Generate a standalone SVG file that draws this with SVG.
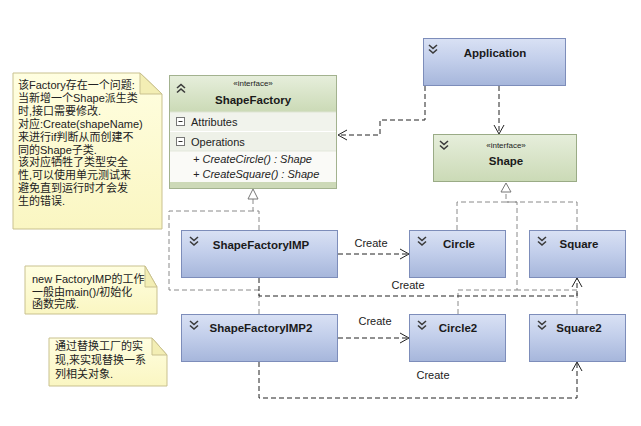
<svg xmlns="http://www.w3.org/2000/svg" width="641" height="426" viewBox="0 0 641 426">
<defs>
<linearGradient id="blue" x1="0" y1="0" x2="0" y2="1">
<stop offset="0" stop-color="#d9e1f4"/><stop offset="0.45" stop-color="#c3cfeb"/><stop offset="1" stop-color="#a6b6db"/>
</linearGradient>
<linearGradient id="green" x1="0" y1="0" x2="0" y2="1">
<stop offset="0" stop-color="#e6eedb"/><stop offset="1" stop-color="#cbdab6"/>
</linearGradient>
<linearGradient id="note" x1="0" y1="0" x2="0" y2="1">
<stop offset="0" stop-color="#fffee0"/><stop offset="1" stop-color="#faf6c2"/>
</linearGradient>
<marker id="open" markerWidth="12" markerHeight="12" refX="10" refY="6" orient="auto" markerUnits="userSpaceOnUse">
<path d="M1,1 L10,6 L1,11" fill="none" stroke="#222" stroke-width="1"/>
</marker>
</defs>
<style>
.cls{fill:url(#blue);stroke:#7d8dba;stroke-width:1}
.ifc{fill:url(#green);stroke:#9aab86;stroke-width:1}
.name{font-family:"Liberation Sans",Arial,sans-serif;font-size:11.5px;font-weight:bold;fill:#1a1a1a;text-anchor:middle}
.stereo{font-family:"Liberation Sans",Arial,sans-serif;font-size:8px;fill:#222;text-anchor:middle}
.txt{font-family:"Liberation Sans",Arial,sans-serif;font-size:11px;fill:#222}
.op{font-family:"Liberation Sans",Arial,sans-serif;font-size:11px;font-style:italic;fill:#222}
.lbl{font-family:"Liberation Sans",Arial,sans-serif;font-size:11px;fill:#222;text-anchor:middle}
.ntxt{font-family:"Liberation Sans","Noto Sans CJK SC",sans-serif;font-size:11px;fill:#222}
.notebox{fill:url(#note);stroke:#c9c18f;stroke-width:1}
.fold{fill:#f3eeb4;stroke:#c9c18f;stroke-width:1}
.chev{fill:none;stroke:#3a3a3a;stroke-width:1.6}
.dep{fill:none;stroke:#222;stroke-width:1;stroke-dasharray:5 3}
.real{fill:none;stroke:#8a8a8a;stroke-width:1;stroke-dasharray:5 3}
.tri{fill:#fff;stroke:#777;stroke-width:1}
</style>

<g id="connectors">
<path class="real" d="M259,230 V211 H253 V199"/>
<path class="real" d="M259,314 V290 H169 V211 H253"/>
<path class="real" d="M457,230 V202 H506 V192"/>
<path class="real" d="M577,230 V202 H506"/>
<path class="real" d="M458,314 V290 H517 V202 H506"/>
<path class="real" d="M577,314 V290 H517"/>
<path class="tri" d="M253,189 L258,199 L248,199 Z"/>
<path class="tri" d="M506,183 L511,192 L501,192 Z"/>
<path class="dep" d="M425,86 V120 H380 V135 H338" marker-end="url(#open)"/>
<path class="dep" d="M499,86 V134" marker-end="url(#open)"/>
<path class="dep" d="M338,254 H409" marker-end="url(#open)"/>
<path class="dep" d="M259,278 V296 H577 V278" marker-end="url(#open)"/>
<path class="dep" d="M338,338 H409" marker-end="url(#open)"/>
<path class="dep" d="M259,362 V398 H577 V362" marker-end="url(#open)"/>
<text class="lbl" x="371" y="247">Create</text>
<text class="lbl" x="408" y="289">Create</text>
<text class="lbl" x="375" y="325">Create</text>
<text class="lbl" x="433" y="379">Create</text>
</g>

<g id="note1">
<path class="notebox" d="M13,73 H140 L162,94 V229 H13 Z"/>
<path class="fold" d="M140,73 V94 H162 Z"/>
<text class="ntxt" x="18" y="89">该Factory存在一个问题:</text>
<text class="ntxt" x="18" y="101.9">当新增一个Shape派生类</text>
<text class="ntxt" x="18" y="114.8">时,接口需要修改.</text>
<text class="ntxt" x="18" y="127.7">对应:Create(shapeName)</text>
<text class="ntxt" x="18" y="140.6">来进行if判断从而创建不</text>
<text class="ntxt" x="18" y="153.5">同的Shape子类.</text>
<text class="ntxt" x="18" y="166.4">该对应牺牲了类型安全</text>
<text class="ntxt" x="18" y="179.3">性,可以使用单元测试来</text>
<text class="ntxt" x="18" y="192.2">避免直到运行时才会发</text>
<text class="ntxt" x="18" y="205.1">生的错误.</text>
</g>

<g id="note2">
<path class="notebox" d="M25,266 H145 L157,287 V314 H25 Z"/>
<path class="fold" d="M145,266 V287 H157 Z"/>
<text class="ntxt" x="32" y="283">new FactoryIMP的工作</text>
<text class="ntxt" x="32" y="295.5">一般由main()/初始化</text>
<text class="ntxt" x="32" y="308">函数完成.</text>
</g>

<g id="note3">
<path class="notebox" d="M49,338 H152 L167,355 V386 H49 Z"/>
<path class="fold" d="M152,338 V355 H167 Z"/>
<text class="ntxt" x="55" y="350">通过替换工厂的实</text>
<text class="ntxt" x="55" y="364">现,来实现替换一系</text>
<text class="ntxt" x="55" y="377.5">列相关对象.</text>
</g>

<g id="Application">
<rect class="cls" x="423.5" y="38.5" width="142" height="47"/>
<path class="chev" d="M429,45 L433,48.5 L437,45 M429,49.5 L433,53 L437,49.5"/>
<text class="name" x="495" y="57">Application</text>
</g>

<g id="Shape">
<rect class="ifc" x="433.5" y="134.5" width="143" height="47"/>
<path class="chev" d="M440,141 L444,144.5 L448,141 M440,145.5 L444,149 L448,145.5"/>
<text class="stereo" x="506" y="148">«interface»</text>
<text class="name" x="506" y="165">Shape</text>
</g>

<g id="ShapeFactory">
<rect x="169.5" y="75.5" width="167" height="113" fill="#fafaf7" stroke="#a3b28f"/>
<rect x="170" y="76" width="166" height="36" fill="url(#green)"/>
<rect x="170" y="112" width="166" height="19" fill="#f1f3ec"/>
<rect x="170" y="132" width="166" height="19" fill="#eef1e8"/>
<rect x="170" y="182" width="166" height="6" fill="#cdd9b8"/>
<line x1="170" y1="112" x2="336" y2="112" stroke="#dfe5d4"/>
<line x1="170" y1="131.5" x2="336" y2="131.5" stroke="#ffffff"/>
<line x1="170" y1="151" x2="336" y2="151" stroke="#e3e7dc"/>
<path class="chev" d="M177,88 L181,84.5 L185,88 M177,92.5 L181,89 L185,92.5"/>
<text class="stereo" x="253" y="86">«interface»</text>
<text class="name" x="253" y="104">ShapeFactory</text>
<rect x="176.5" y="117.5" width="8" height="8" fill="#fff" stroke="#777"/>
<line x1="178.5" y1="121.5" x2="182.5" y2="121.5" stroke="#333"/>
<text class="txt" x="191" y="125.5">Attributes</text>
<rect x="176.5" y="137.5" width="8" height="8" fill="#fff" stroke="#777"/>
<line x1="178.5" y1="141.5" x2="182.5" y2="141.5" stroke="#333"/>
<text class="txt" x="191" y="145.5">Operations</text>
<text class="op" x="193" y="163">+ CreateCircle() : Shape</text>
<text class="op" x="193" y="178">+ CreateSquare() : Shape</text>
</g>

<g id="ShapeFactoryIMP">
<rect class="cls" x="181.5" y="230.5" width="156" height="47"/>
<path class="chev" d="M190,237 L194,240.5 L198,237 M190,241.5 L194,245 L198,241.5"/>
<text class="name" x="261" y="249">ShapeFactoryIMP</text>
</g>

<g id="Circle">
<rect class="cls" x="409.5" y="230.5" width="96" height="47"/>
<path class="chev" d="M418,237 L422,240.5 L426,237 M418,241.5 L422,245 L426,241.5"/>
<text class="name" x="459" y="248">Circle</text>
</g>

<g id="Square">
<rect class="cls" x="529.5" y="230.5" width="96" height="47"/>
<path class="chev" d="M538,237 L542,240.5 L546,237 M538,241.5 L542,245 L546,241.5"/>
<text class="name" x="579" y="248">Square</text>
</g>

<g id="ShapeFactoryIMP2">
<rect class="cls" x="181.5" y="314.5" width="156" height="47"/>
<path class="chev" d="M190,321 L194,324.5 L198,321 M190,325.5 L194,329 L198,325.5"/>
<text class="name" x="261" y="332">ShapeFactoryIMP2</text>
</g>

<g id="Circle2">
<rect class="cls" x="409.5" y="314.5" width="96" height="47"/>
<path class="chev" d="M418,321 L422,324.5 L426,321 M418,325.5 L422,329 L426,325.5"/>
<text class="name" x="458" y="332">Circle2</text>
</g>

<g id="Square2">
<rect class="cls" x="529.5" y="314.5" width="96" height="47"/>
<path class="chev" d="M538,321 L542,324.5 L546,321 M538,325.5 L542,329 L546,325.5"/>
<text class="name" x="579" y="332">Square2</text>
</g>
</svg>
